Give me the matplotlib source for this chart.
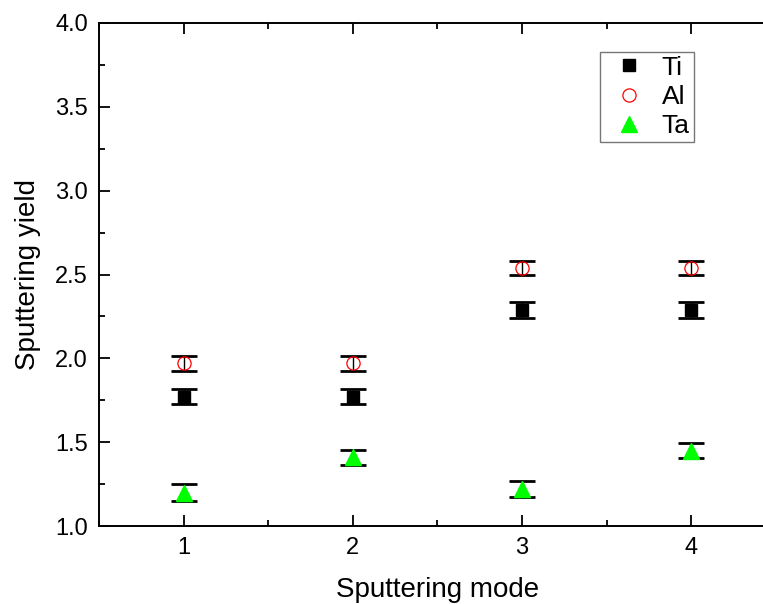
import matplotlib
matplotlib.use("Agg")
import matplotlib.pyplot as plt
from matplotlib.ticker import MultipleLocator

plt.rcParams["font.family"] = ["Liberation Sans", "DejaVu Sans"]

modes = [1, 2, 3, 4]
ti = [1.77, 1.77, 2.29, 2.29]
ti_err = [0.045, 0.045, 0.047, 0.047]
al = [1.97, 1.97, 2.54, 2.54]
al_err = [0.045, 0.045, 0.043, 0.043]
ta = [1.20, 1.41, 1.22, 1.45]
ta_err = [0.048, 0.045, 0.047, 0.045]

fig = plt.figure(figsize=(7.63, 6.04), dpi=100)
ax = fig.add_axes([0.1297, 0.129, 0.887, 0.833])

common = dict(ecolor="black", elinewidth=1.0, capsize=9.5, capthick=2.0,
              linestyle="none")

ax.errorbar(modes, ti, yerr=ti_err, marker="s", markersize=8.5,
            color="black", mec="black", label="Ti", **common)
al_bars = ax.errorbar(modes, al, yerr=al_err, marker="o", markersize=9.5,
                      mfc="none", mec="#ff0000", label="Al", **common)
# thin edge on the circle only, keep the caps thick
al_bars[0].set_markeredgewidth(0.9)
ax.errorbar(modes, ta, yerr=ta_err, marker="^", markersize=11,
            color="#00ff00", mec="#00ff00", label="Ta", **common)

ax.set_xlim(0.5, 4.5)
ax.set_ylim(1.0, 4.0)
ax.xaxis.set_major_locator(MultipleLocator(1))
ax.xaxis.set_minor_locator(MultipleLocator(0.5))
ax.yaxis.set_major_locator(MultipleLocator(0.5))
ax.yaxis.set_minor_locator(MultipleLocator(0.25))
ax.set_yticks([1.0, 1.5, 2.0, 2.5, 3.0, 3.5, 4.0])
ax.set_yticklabels(["1.0", "1.5", "2.0", "2.5", "3.0", "3.5", "4.0"])

ax.tick_params(which="both", direction="in", top=True, right=True,
               width=1.3, labelsize=17, pad=8)
ax.tick_params(which="major", length=8)
ax.tick_params(which="minor", length=4)
for s in ax.spines.values():
    s.set_linewidth(1.4)

ax.set_xlabel("Sputtering mode", fontsize=20, labelpad=13)
ax.set_ylabel("Sputtering yield", fontsize=20, labelpad=10)

# legend without error bars in the handles
handles, labels = ax.get_legend_handles_labels()
handles = [h[0] for h in handles]
leg = ax.legend(handles, labels, loc="upper left",
                bbox_to_anchor=(0.740, 0.943), fontsize=19, frameon=True,
                fancybox=False, edgecolor="#555555", handlelength=1.9,
                handletextpad=0.3, labelspacing=0.2, borderpad=0.15,
                borderaxespad=0, numpoints=1)
leg.get_frame().set_linewidth(1.0)

fig.savefig("out.png", dpi=100)
